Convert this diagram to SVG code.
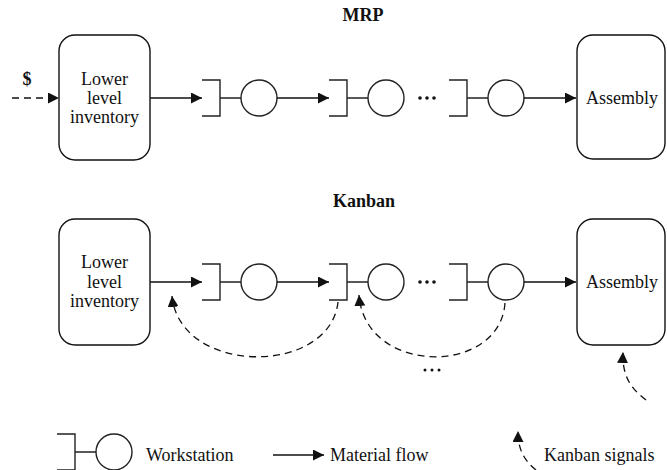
<svg xmlns="http://www.w3.org/2000/svg" width="667" height="470" viewBox="0 0 667 470" font-family="'Liberation Serif', 'Times New Roman', Times, serif">
  <style>
    .box { fill: #fff; stroke: #111; stroke-width: 1.4; }
    text { font-family: 'Liberation Serif', 'Times New Roman', Times, serif; }
    .lbl { font-size: 18px; fill: #111; }
    .ttl { font-size: 18px; font-weight: bold; fill: #111; }
    .ws { fill: none; stroke: #222; stroke-width: 1.4; }
    .flow { fill: none; stroke: #111; stroke-width: 1.4; }
    .sig { fill: none; stroke: #111; stroke-width: 1.3; stroke-dasharray: 7 5; }
  </style>
  <defs>
    <marker id="arrow" markerUnits="userSpaceOnUse" markerWidth="11" markerHeight="11" refX="11" refY="5.5" orient="auto">
      <path d="M0,0 L11,5.5 L0,11 z" fill="#111"/>
    </marker>
    <!-- workstation symbol: queue bracket + machine circle, origin at bracket spine centre -->
    <g id="station">
      <path class="ws" d="M-18,-18 H0 V18 H-18 M0,0 H21"/>
      <circle class="ws" cx="39" cy="0" r="18"/>
    </g>
  </defs>

  <!-- MRP row -->
  <text class="ttl" x="363" y="21" text-anchor="middle">MRP</text>
  <g id="mrp-inventory">
    <rect class="box" x="59" y="35" width="91" height="125" rx="16"/>
    <text class="lbl" x="104.5" y="85" text-anchor="middle">Lower</text>
    <text class="lbl" x="104.5" y="104" text-anchor="middle">level</text>
    <text class="lbl" x="104.5" y="123" text-anchor="middle">inventory</text>
  </g>
  <g id="mrp-ws1"><use href="#station" x="220" y="98"/></g>
  <g id="mrp-ws2"><use href="#station" x="347" y="98"/></g>
  <g id="mrp-ws3"><use href="#station" x="467" y="98"/></g>
  <g id="mrp-assembly">
    <rect class="box" x="577" y="35" width="88" height="124" rx="16"/>
    <text class="lbl" x="622" y="104" text-anchor="middle">Assembly</text>
  </g>
  <text class="ttl" x="27" y="85" text-anchor="middle" font-size="11">$</text>
  <g id="mrp-dots" fill="#111">
    <circle cx="420" cy="98" r="1.8"/><circle cx="427" cy="98" r="1.8"/><circle cx="434" cy="98" r="1.8"/>
  </g>

  <!-- Kanban row -->
  <text class="ttl" x="364" y="207" text-anchor="middle">Kanban</text>
  <g id="kb-inventory">
    <rect class="box" x="59" y="219" width="91" height="126" rx="16"/>
    <text class="lbl" x="104.5" y="268" text-anchor="middle">Lower</text>
    <text class="lbl" x="104.5" y="288" text-anchor="middle">level</text>
    <text class="lbl" x="104.5" y="307" text-anchor="middle">inventory</text>
  </g>
  <g id="kb-ws1"><use href="#station" x="220" y="282"/></g>
  <g id="kb-ws2"><use href="#station" x="347" y="282"/></g>
  <g id="kb-ws3"><use href="#station" x="467" y="282"/></g>
  <g id="kb-assembly">
    <rect class="box" x="577" y="219" width="88" height="126" rx="16"/>
    <text class="lbl" x="622" y="288" text-anchor="middle">Assembly</text>
  </g>
  <g id="kb-dots" fill="#111">
    <circle cx="420" cy="282" r="1.8"/><circle cx="427" cy="282" r="1.8"/><circle cx="434" cy="282" r="1.8"/>
    <circle cx="425" cy="370" r="1.5"/><circle cx="432" cy="370" r="1.5"/><circle cx="439" cy="370" r="1.5"/>
  </g>

  <!-- connectors -->
  <g id="connectors">
    <!-- MRP material flow -->
    <path class="sig" d="M12,98 H59" marker-end="url(#arrow)"/>
    <path class="flow" d="M150,98 H202" marker-end="url(#arrow)"/>
    <path class="flow" d="M277,98 H329" marker-end="url(#arrow)"/>
    <path class="flow" d="M524,98 H576" marker-end="url(#arrow)"/>
    <!-- Kanban material flow -->
    <path class="flow" d="M150,282 H202" marker-end="url(#arrow)"/>
    <path class="flow" d="M277,282 H329" marker-end="url(#arrow)"/>
    <path class="flow" d="M524,282 H576" marker-end="url(#arrow)"/>
    <!-- Kanban signals -->
    <path class="sig" d="M338,302 C330,376 180,376 172,296" marker-end="url(#arrow)"/>
    <path class="sig" d="M505,303 C500,376 365,376 359,295" marker-end="url(#arrow)"/>
    <path class="sig" d="M646,400 C630,388 622,375 623,352" marker-end="url(#arrow)"/>
  </g>

  <!-- legend -->
  <g id="legend-workstation">
    <use href="#station" x="75" y="452"/>
    <text class="lbl" x="146" y="461">Workstation</text>
  </g>
  <g id="legend-flow">
    <path class="flow" d="M273,455 H324" marker-end="url(#arrow)"/>
    <text class="lbl" x="330" y="461">Material flow</text>
  </g>
  <g id="legend-signal">
    <path class="sig" d="M536,470 C524,460 518,450 518,431" marker-end="url(#arrow)"/>
    <text class="lbl" x="544" y="461">Kanban signals</text>
  </g>
</svg>
